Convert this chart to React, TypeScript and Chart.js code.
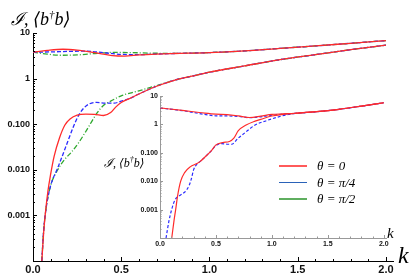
import React, { useEffect, useRef } from "react";
import { Chart, registerables } from "chart.js";
Chart.register(...registerables);

// ---------- main chart data (k, value) ----------
const kRedUp = [0, 0.08, 0.17, 0.25, 0.35, 0.45, 0.52, 0.6, 0.7, 0.8, 1.0, 1.2, 1.4, 1.6, 1.8, 2.0];
const redUp = [3.8, 4.15, 4.4, 4.2, 3.7, 3.2, 3.12, 3.3, 3.45, 3.55, 3.72, 4.05, 4.6, 5.2, 5.95, 6.8];
const kBlueUp = [0, 0.1, 0.2, 0.3, 0.4, 0.5, 0.6, 0.7, 0.8, 1.0, 1.2, 1.4, 1.6, 1.8, 2.0];
const blueUp = [3.8, 3.85, 3.95, 4.0, 3.7, 3.4, 3.35, 3.45, 3.55, 3.72, 4.05, 4.6, 5.2, 5.95, 6.8];
const kGreenUp = [0, 0.08, 0.15, 0.25, 0.35, 0.45, 0.55, 0.7, 0.8, 1.0, 1.2, 1.4, 1.6, 1.8, 2.0];
const greenUp = [3.8, 3.45, 3.25, 3.3, 3.55, 3.75, 3.72, 3.6, 3.58, 3.72, 4.05, 4.6, 5.2, 5.95, 6.8];

const kRedLow = [0.05, 0.06, 0.07, 0.085, 0.1, 0.12, 0.15, 0.18, 0.21, 0.25, 0.3, 0.35, 0.4, 0.44, 0.47, 0.5, 0.55, 0.6, 0.7, 0.8, 0.9, 1.0, 1.2, 1.4, 1.6, 1.8, 2.0];
const redLow = [1e-4, 4e-4, 1.1e-3, 3.5e-3, 8e-3, 0.02, 0.05, 0.095, 0.13, 0.158, 0.166, 0.164, 0.155, 0.18, 0.24, 0.3, 0.37, 0.46, 0.68, 0.92, 1.13, 1.38, 1.9, 2.6, 3.35, 4.3, 5.4];
const kBlueLow = [0.05, 0.06, 0.075, 0.1, 0.14, 0.17, 0.2, 0.23, 0.26, 0.29, 0.32, 0.36, 0.41, 0.46, 0.5, 0.55, 0.6, 0.7, 0.8, 0.9, 1.0, 1.2, 1.4, 1.6, 1.8, 2.0];
const blueLow = [1e-4, 4.5e-4, 1.5e-3, 4.5e-3, 0.011, 0.022, 0.045, 0.09, 0.16, 0.23, 0.28, 0.3, 0.29, 0.29, 0.32, 0.37, 0.46, 0.68, 0.92, 1.13, 1.38, 1.9, 2.6, 3.35, 4.3, 5.4];
const kGreenLow = [0.05, 0.06, 0.075, 0.1, 0.14, 0.18, 0.22, 0.26, 0.3, 0.33, 0.36, 0.4, 0.44, 0.5, 0.55, 0.6, 0.7, 0.8, 0.9, 1.0, 1.2, 1.4, 1.6, 1.8, 2.0];
const greenLow = [1e-4, 4.5e-4, 1.5e-3, 4.5e-3, 0.01, 0.017, 0.025, 0.04, 0.07, 0.11, 0.17, 0.26, 0.32, 0.42, 0.48, 0.54, 0.7, 0.92, 1.13, 1.38, 1.9, 2.6, 3.35, 4.3, 5.4];

// ---------- inset data ----------
const kInRedUp = [0, 0.2, 0.4, 0.5, 0.6, 0.7, 0.8, 0.9, 1.0, 1.1, 1.2, 1.4, 1.6, 1.8, 2.0];
const inRedUp = [3.8, 3.1, 2.5, 2.3, 2.22, 2.0, 1.75, 1.95, 2.25, 2.35, 2.45, 2.8, 3.4, 4.4, 5.8];
const kInBlueUp = [0, 0.2, 0.4, 0.5, 0.6, 0.7, 0.8, 0.9, 1.0, 1.1, 1.2, 1.4, 1.6, 1.8, 2.0];
const inBlueUp = [3.8, 3.05, 2.25, 2.0, 1.98, 1.92, 1.72, 1.85, 2.1, 2.3, 2.45, 2.8, 3.4, 4.4, 5.8];
const kInRedLow = [0.105, 0.125, 0.14, 0.157, 0.185, 0.22, 0.27, 0.33, 0.36, 0.4, 0.46, 0.5, 0.56, 0.62, 0.66, 0.7, 0.77, 0.85, 0.9, 1.0, 1.1, 1.2, 1.4, 1.6, 1.8, 2.0];
const inRedLow = [1e-4, 4e-4, 1e-3, 3e-3, 0.01, 0.02, 0.032, 0.042, 0.05, 0.07, 0.12, 0.19, 0.23, 0.25, 0.33, 0.6, 0.95, 1.3, 1.5, 1.98, 2.25, 2.42, 2.8, 3.4, 4.4, 5.8];
const kInBlueLow = [0.054, 0.08, 0.104, 0.134, 0.164, 0.2, 0.23, 0.26, 0.28, 0.3, 0.33, 0.36, 0.4, 0.46, 0.5, 0.55, 0.6, 0.64, 0.7, 0.77, 0.85, 0.95, 1.05, 1.15, 1.25, 1.4, 1.6, 1.8, 2.0];
const inBlueLow = [1e-4, 4e-4, 1e-3, 2.2e-3, 2.9e-3, 3.6e-3, 4.5e-3, 7e-3, 0.012, 0.025, 0.04, 0.05, 0.07, 0.12, 0.18, 0.21, 0.2, 0.2, 0.33, 0.55, 0.95, 1.35, 1.8, 2.25, 2.5, 2.8, 3.4, 4.4, 5.8];

// ---------- ticks & legend ----------
const xTickValues = [0, 0.5, 1.0, 1.5, 2.0];
const yTickValues = [1e-4, 1e-3, 1e-2, 1e-1, 1, 10];
const yTickLabels = ["", "0.001", "0.010", "0.100", "1", "10"];
const legendLabels = ["θ = 0", "θ = π/4", "θ = π/2"];
const legendColors = ["#ff5a5a", "#2a62b8", "#5fae5f"];

const RED = "#ff2b2b";
const BLUE = "#2b2bff";
const GREEN = "#2fa82f";

const pts = (ks: number[], vs: number[]) => ks.map((k, i) => ({ x: k, y: vs[i] }));

const inwardTicks = {
  id: "inwardTicks",
  afterDatasetsDraw(chart: any, _a: any, opts: any) {
    const { ctx, chartArea } = chart;
    const xs = chart.scales.x;
    const ys = chart.scales.y;
    ctx.save();
    ctx.strokeStyle = opts.color;
    ctx.lineWidth = 1;
    ctx.beginPath();
    for (let i = 0; i <= 20; i++) {
      const v = i / 10;
      const px = Math.round(xs.getPixelForValue(v)) + 0.5;
      const len = i % 5 === 0 ? opts.major : opts.minor;
      ctx.moveTo(px, chartArea.bottom);
      ctx.lineTo(px, chartArea.bottom - len);
    }
    for (let e = -4; e <= 0; e++) {
      for (let m = 1; m <= 10; m++) {
        const v = m * Math.pow(10, e);
        const py = Math.round(ys.getPixelForValue(v)) + 0.5;
        const len = m === 1 || m === 10 ? opts.major : opts.minor;
        ctx.moveTo(chartArea.left, py);
        ctx.lineTo(chartArea.left + len, py);
      }
    }
    ctx.stroke();
    ctx.restore();
  },
};

function lineDs(data: any, color: string, dash: number[], width: number) {
  return {
    data,
    borderColor: color,
    borderWidth: width,
    borderDash: dash,
    pointRadius: 0,
    fill: false,
    tension: 0.4,
    cubicInterpolationMode: "monotone" as const,
  };
}

function makeOptions(cfg: any) {
  return {
    animation: false,
    responsive: false,
    layout: { padding: cfg.padding },
    plugins: {
      legend: { display: false },
      tooltip: { enabled: false },
      inwardTicks: { color: cfg.axisColor, major: cfg.major, minor: cfg.minor },
    },
    scales: {
      x: {
        type: "linear",
        min: 0,
        max: cfg.xMax,
        afterBuildTicks: (s: any) => {
          s.ticks = xTickValues.map((v) => ({ value: v }));
        },
        afterFit: (s: any) => {
          s.height = cfg.xHeight;
        },
        grid: { display: false, drawTicks: false, tickLength: 0 },
        border: { display: true, color: cfg.axisColor, width: 1 },
        ticks: {
          autoSkip: false,
          maxRotation: 0,
          padding: cfg.xPad,
          color: "#111",
          font: { family: "Liberation Sans, Arial, sans-serif", size: cfg.xFont, weight: "bold" },
          callback: (v: any) => Number(v).toFixed(1),
        },
      },
      y: {
        type: "logarithmic",
        min: 1e-4,
        max: 10,
        afterBuildTicks: (s: any) => {
          s.ticks = yTickValues.map((v) => ({ value: v }));
        },
        afterFit: (s: any) => {
          s.width = cfg.yWidth;
        },
        grid: { display: false, drawTicks: false, tickLength: 0 },
        border: { display: true, color: cfg.axisColor, width: 1 },
        ticks: {
          autoSkip: false,
          padding: cfg.yPad,
          color: "#111",
          font: { family: "Liberation Sans, Arial, sans-serif", size: cfg.yFont, weight: "bold" },
          callback: (v: any) => {
            const i = yTickValues.findIndex((t) => Math.abs(Math.log10(t) - Math.log10(Number(v))) < 1e-6);
            return i >= 0 ? yTickLabels[i] : "";
          },
        },
      },
    },
  };
}

export default function App() {
  const mainRef = useRef<HTMLCanvasElement>(null);
  const insetRef = useRef<HTMLCanvasElement>(null);

  useEffect(() => {
    const main = new Chart(mainRef.current as HTMLCanvasElement, {
      type: "line",
      data: {
        datasets: [
          lineDs(pts(kRedUp, redUp), RED, [], 1.3),
          lineDs(pts(kRedLow, redLow), RED, [], 1.3),
          lineDs(pts(kBlueUp, blueUp), BLUE, [4, 2], 1.3),
          lineDs(pts(kBlueLow, blueLow), BLUE, [4, 2], 1.3),
          lineDs(pts(kGreenUp, greenUp), GREEN, [5, 2, 1, 2], 1.3),
          lineDs(pts(kGreenLow, greenLow), GREEN, [5, 2, 1, 2], 1.3),
        ] as any,
      },
      options: makeOptions({
        padding: { top: 33, right: 22, left: 0, bottom: 0 },
        axisColor: "#000",
        major: 4,
        minor: 2,
        xMax: 2.04,
        xHeight: 14,
        yWidth: 33,
        xPad: 2,
        yPad: 3,
        xFont: 11,
        yFont: 9,
      }) as any,
      plugins: [inwardTicks],
    });

    const inset = new Chart(insetRef.current as HTMLCanvasElement, {
      type: "line",
      data: {
        datasets: [
          lineDs(pts(kInRedUp, inRedUp), RED, [], 1.2),
          lineDs(pts(kInRedLow, inRedLow), RED, [], 1.2),
          lineDs(pts(kInBlueUp, inBlueUp), BLUE, [3, 2], 1.2),
          lineDs(pts(kInBlueLow, inBlueLow), BLUE, [3, 2], 1.2),
        ] as any,
      },
      options: makeOptions({
        padding: { top: 8, right: 29, left: 0, bottom: 0 },
        axisColor: "#999",
        major: 3,
        minor: 1.5,
        xMax: 2.02,
        xHeight: 15,
        yWidth: 60,
        xPad: 2,
        yPad: 2,
        xFont: 7,
        yFont: 7,
      }) as any,
      plugins: [inwardTicks],
    });

    return () => {
      main.destroy();
      inset.destroy();
    };
  }, []);

  const serif = "'Liberation Serif', 'DejaVu Serif', serif";

  return (
    <div style={{ position: "fixed", left: 0, top: 0, width: 415, height: 275, background: "#fff", overflow: "hidden" }}>
      <canvas ref={mainRef} width={415} height={275} style={{ position: "absolute", left: 0, top: 0 }} />
      <canvas ref={insetRef} width={315} height={165} style={{ position: "absolute", left: 100, top: 88 }} />
      <div style={{ position: "absolute", left: 11, top: 2, fontFamily: serif, fontStyle: "italic", fontSize: 18, whiteSpace: "nowrap", lineHeight: "24px" }}>
        ℐ, ⟨b<sup style={{ fontSize: 11 }}>†</sup>b⟩
      </div>
      <div style={{ position: "absolute", left: 398, top: 243, fontFamily: serif, fontStyle: "italic", fontSize: 24, lineHeight: "24px" }}>k</div>
      <div style={{ position: "absolute", left: 387, top: 226, fontFamily: serif, fontStyle: "italic", fontSize: 15, lineHeight: "15px" }}>k</div>
      <div style={{ position: "absolute", left: 104, top: 152, fontFamily: serif, fontStyle: "italic", fontSize: 12, whiteSpace: "nowrap", lineHeight: "16px" }}>
        ℐ, ⟨b<sup style={{ fontSize: 8 }}>†</sup>b⟩
      </div>
      {legendLabels.map((lab, i) => (
        <div key={lab} style={{ position: "absolute", left: 279, top: 158 + i * 16.5, height: 16, display: "flex", alignItems: "center", whiteSpace: "nowrap" }}>
          <div style={{ width: 28, height: i === 1 ? 1.5 : 2.5, background: legendColors[i], marginRight: 10 }} />
          <span style={{ fontFamily: serif, fontStyle: "italic", fontSize: 13 }}>{lab}</span>
        </div>
      ))}
    </div>
  );
}
